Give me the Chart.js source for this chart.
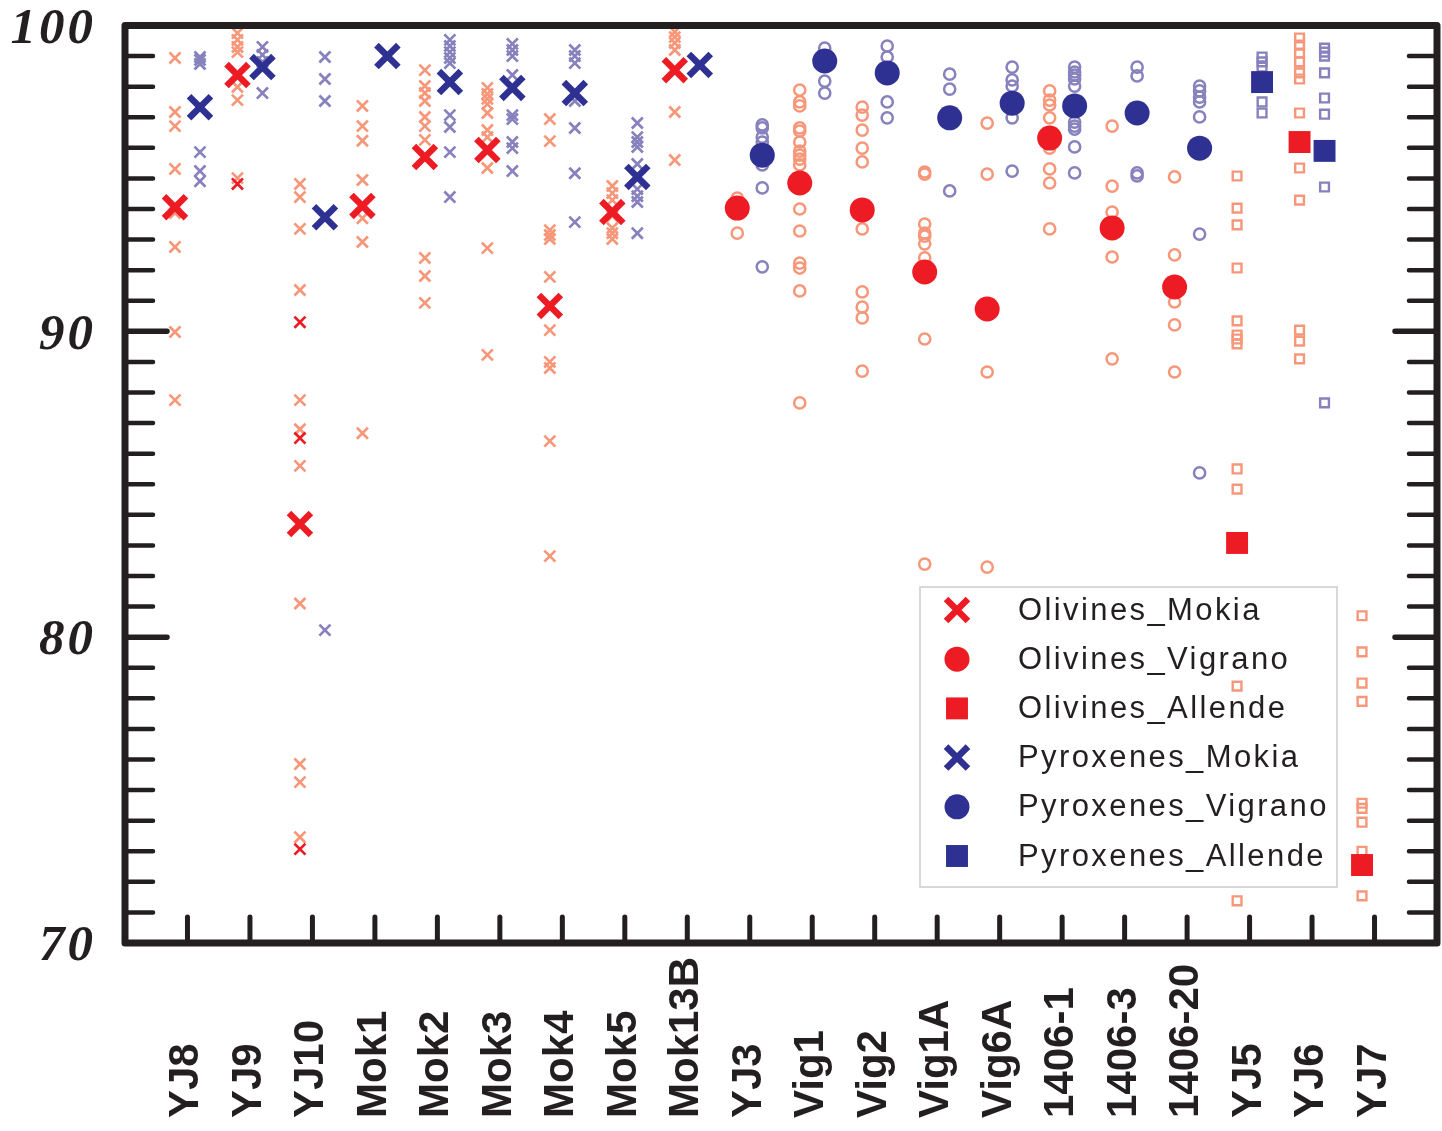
<!DOCTYPE html>
<html>
<head>
<meta charset="utf-8">
<script src="https://cdn.jsdelivr.net/npm/chart.js@4.4.1/dist/chart.umd.min.js"></script>
<style>
html,body{margin:0;padding:0;background:#ffffff;overflow:hidden;}
canvas{display:block;}
</style>
</head>
<body>
<canvas id="c" width="1442" height="1131" style="width:1442px;height:1131px"></canvas>
<script>
// ---------- DATA ----------
const categories = ['YJ8','YJ9','YJ10','Mok1','Mok2','Mok3','Mok4','Mok5','Mok13B','YJ3','Vig1','Vig2','Vig1A','Vig6A','1406-1','1406-3','1406-20','YJ5','YJ6','YJ7'];
const meteorite = ['Mokia','Mokia','Mokia','Mokia','Mokia','Mokia','Mokia','Mokia','Mokia','Vigrano','Vigrano','Vigrano','Vigrano','Vigrano','Vigrano','Vigrano','Vigrano','Allende','Allende','Allende'];
const yTickLabels = [70, 80, 90, 100];

const olivineMeans  = [94.06, 98.38, 83.70, 94.10, 95.70, 95.93, 90.83, 93.90, 98.54, 94.03, 94.85, 93.97, 91.94, 90.73, 96.32, 93.38, 91.45, 83.08, 96.19, 72.55];
const pyroxeneMeans = [97.33, 98.64, 93.73, 99.00, 98.15, 97.96, 97.79, 95.05, 98.71, 95.76, 98.84, 98.45, 96.98, 97.46, 97.37, 97.14, 95.99, 98.15, 95.90, null];

const olivineSpots = [
  [98.94, 97.17, 96.71, 95.31, 93.87, 92.76, 89.98, 87.75],
  [99.75, 99.53, 99.30, 99.13, 97.99, 97.56, 95.01],
  [94.82, 94.39, 93.35, 91.35, 87.75, 86.80, 85.60, 81.10, 75.85, 75.26, 73.46],
  [97.37, 96.71, 96.23, 94.95, 93.70, 92.92, 86.67],
  [98.54, 98.02, 97.79, 97.53, 97.01, 96.71, 96.26, 92.40, 91.81, 90.93],
  [97.96, 97.76, 97.60, 97.43, 97.14, 96.58, 96.35, 95.34, 92.72, 89.23],
  [96.94, 96.22, 93.31, 93.15, 93.02, 91.78, 90.04, 89.00, 88.80, 86.41, 82.65],
  [94.75, 94.52, 94.29, 93.77, 93.38, 93.21, 93.02],
  [99.79, 99.62, 99.43, 99.20, 97.17, 95.60],
  [94.36, 93.21],
  [97.89, 97.50, 97.37, 96.65, 96.55, 96.19, 95.89, 95.76, 95.63, 95.44, 94.00, 93.28, 92.23, 92.07, 91.32, 87.66],
  [97.33, 97.07, 96.58, 95.99, 95.54, 93.35, 91.29, 90.79, 90.44, 88.70],
  [95.21, 95.14, 93.51, 93.21, 93.11, 92.86, 92.40, 89.75, 82.39],
  [96.81, 95.14, 88.67, 82.29],
  [97.86, 97.56, 97.40, 96.98, 95.99, 95.31, 94.85, 93.35],
  [96.71, 94.75, 93.90, 92.43, 89.10],
  [95.05, 92.50, 90.96, 90.21, 88.67],
  [95.08, 94.03, 93.48, 92.07, 90.34, 89.88, 89.75, 89.59, 85.50, 84.84, 78.40, 71.38],
  [99.59, 99.36, 99.10, 98.81, 98.45, 98.25, 97.14, 95.34, 94.29, 90.04, 89.68, 89.10],
  [80.70, 79.52, 78.50, 77.90, 74.57, 74.40, 73.95, 73.00, 71.54]
];
const olivineSpotsHighlighted = [
  [], [94.82], [90.30, 86.51, 73.07], [], [], [], [], [], [], [], [], [], [], [], [], [], [], [], [], []
];
const pyroxeneSpots = [
  [98.97, 98.87, 98.74, 95.86, 95.24, 94.91],
  [99.30, 99.04, 98.81, 97.79],
  [98.97, 98.25, 97.53, 80.23],
  [],
  [99.53, 99.33, 99.13, 98.94, 98.77, 97.07, 96.68, 95.86, 94.39],
  [99.40, 99.20, 99.00, 98.38, 97.07, 96.94, 96.19, 95.99, 95.24],
  [99.20, 99.00, 98.77, 97.53, 96.65, 95.17, 93.57],
  [96.81, 96.35, 96.19, 96.03, 95.47, 94.65, 94.42, 94.23, 93.21],
  [],
  [96.75, 96.65, 96.35, 96.19, 95.44, 94.69, 92.11],
  [99.26, 98.18, 97.79],
  [99.33, 98.97, 97.50, 96.98],
  [98.41, 97.92, 94.59],
  [98.64, 98.22, 98.02, 96.98, 95.24],
  [98.64, 98.48, 98.38, 98.25, 98.02, 96.84, 96.71, 96.61, 96.03, 95.18],
  [98.64, 98.35, 95.18, 95.08],
  [98.02, 97.86, 97.66, 97.50, 97.01, 93.18, 85.37],
  [98.97, 98.81, 98.64, 97.50, 97.14],
  [99.26, 99.13, 99.00, 98.45, 97.63, 97.10, 94.72, 87.66],
  []
];
const meteoriteGroups = ['Mokia', 'Vigrano', 'Allende'];
const mineralNames = ['Olivines', 'Pyroxenes'];

// ---------- STYLE ----------
const INK = '#231f20';
const STRONG = { Olivines: '#ed1c24', Pyroxenes: '#2e3192' };
const LIGHT  = { Olivines: '#f7977a', Pyroxenes: '#8781bd' };
const OFFSET = { Olivines: -0.2, Pyroxenes: 0.2 };
const SHAPE  = { Mokia: 'crossRot', Vigrano: 'circle', Allende: 'rect' };
const BIG = { crossRot: { r: 15.5, bw: 6.5 }, circle: { r: 12.5, bw: 0 }, rect: { r: 15.5, bw: 0 } };
const SMALL = { crossRot: { r: 7.8, bw: 2.7 }, circle: { r: 5.6, bw: 2.5 }, rect: { r: 6.2, bw: 2.4 } };

const meansBy = { Olivines: olivineMeans, Pyroxenes: pyroxeneMeans };
const spotsBy = { Olivines: olivineSpots, Pyroxenes: pyroxeneSpots };

const datasets = [];
mineralNames.forEach(m => {
  meteoriteGroups.forEach(g => {
    const shape = SHAPE[g];
    const meanPts = [];
    const spotPts = [];
    categories.forEach((c, i) => {
      if (meteorite[i] !== g) return;
      const v = meansBy[m][i];
      if (v !== null && v !== undefined) meanPts.push({ x: i + OFFSET[m], y: v });
      spotsBy[m][i].forEach(s => spotPts.push({ x: i + OFFSET[m], y: s }));
    });
    datasets.push({
      label: m + '_' + g, legendShow: true, data: meanPts, order: 0, clip: false,
      pointStyle: shape, pointRadius: BIG[shape].r, borderWidth: BIG[shape].bw,
      borderColor: STRONG[m], backgroundColor: STRONG[m], showLine: false
    });
    datasets.push({
      label: m + '_' + g + ' spots', legendShow: false, data: spotPts, order: 2, clip: false,
      pointStyle: shape, pointRadius: SMALL[shape].r, borderWidth: SMALL[shape].bw,
      borderColor: LIGHT[m], backgroundColor: 'rgba(0,0,0,0)', showLine: false
    });
  });
});
const hiPts = [];
categories.forEach((c, i) => olivineSpotsHighlighted[i].forEach(v => hiPts.push({ x: i + OFFSET.Olivines, y: v })));
datasets.push({
  label: 'Olivines highlighted', legendShow: false, data: hiPts, order: 1, clip: false,
  pointStyle: 'crossRot', pointRadius: SMALL.crossRot.r, borderWidth: SMALL.crossRot.bw,
  borderColor: STRONG.Olivines, backgroundColor: STRONG.Olivines, showLine: false
});

// ---------- PLUGINS ----------
function drawMarker(ctx, shape, x, y, r, bw, color) {
  ctx.save();
  ctx.fillStyle = color; ctx.strokeStyle = color; ctx.lineWidth = bw;
  if (shape === 'crossRot') {
    const a = r * Math.SQRT1_2;
    ctx.beginPath();
    ctx.moveTo(x - a, y - a); ctx.lineTo(x + a, y + a);
    ctx.moveTo(x - a, y + a); ctx.lineTo(x + a, y - a);
    ctx.stroke();
  } else if (shape === 'circle') {
    ctx.beginPath(); ctx.arc(x, y, r, 0, Math.PI * 2); ctx.fill();
  } else {
    const s = r * Math.SQRT1_2;
    ctx.fillRect(x - s, y - s, 2 * s, 2 * s);
  }
  ctx.restore();
}

const legendPlugin = {
  id: 'insetLegend',
  beforeDatasetsDraw(chart) {
    const ctx = chart.ctx;
    const box = { x: 920, y: 587, w: 417, h: 300 };
    ctx.save();
    ctx.strokeStyle = '#cccccc';
    ctx.lineWidth = 1.5;
    ctx.strokeRect(box.x, box.y, box.w, box.h);
    const items = chart.data.datasets.filter(d => d.legendShow);
    items.forEach((d, k) => {
      const cy = 610 + k * 49.2;
      drawMarker(ctx, d.pointStyle, 957, cy, d.pointRadius, d.borderWidth, d.borderColor);
      ctx.fillStyle = INK;
      ctx.font = '31px "Liberation Sans", Arial, sans-serif';
      ctx.letterSpacing = '2.4px';
      ctx.textAlign = 'left';
      ctx.textBaseline = 'middle';
      ctx.fillText(d.label, 1018, cy + 1);
    });
    ctx.restore();
  }
};

const framePlugin = {
  id: 'frameAxes',
  afterDatasetsDraw(chart) {
    const ctx = chart.ctx;
    const xs = chart.scales.x, ys = chart.scales.y;
    const a = chart.chartArea;
    ctx.save();
    ctx.strokeStyle = INK;
    ctx.lineCap = 'round';
    for (let v = ys.min + 1; v < ys.max; v++) {
      const y = ys.getPixelForValue(v);
      const major = v % 10 === 0;
      ctx.lineWidth = major ? 5.5 : 4.5;
      const len = major ? 42 : 28;
      ctx.beginPath();
      ctx.moveTo(a.left, y); ctx.lineTo(a.left + len, y);
      ctx.moveTo(a.right, y); ctx.lineTo(a.right - len, y);
      ctx.stroke();
    }
    ctx.lineWidth = 5;
    categories.forEach((c, i) => {
      const x = xs.getPixelForValue(i);
      ctx.beginPath();
      ctx.moveTo(x, a.bottom); ctx.lineTo(x, a.bottom - 26);
      ctx.stroke();
    });
    ctx.lineCap = 'butt';
    ctx.lineJoin = 'round';
    ctx.lineWidth = 7;
    ctx.strokeRect(a.left, a.top, a.right - a.left, a.bottom - a.top);

    ctx.fillStyle = INK;
    ctx.font = 'italic bold 51px "Liberation Serif", "Times New Roman", serif';
    ctx.letterSpacing = '3px';
    ctx.textAlign = 'right';
    ctx.textBaseline = 'middle';
    yTickLabels.forEach(v => {
      ctx.fillText(String(v), 96, ys.getPixelForValue(v) + 4);
    });

    ctx.font = 'bold 42px "Liberation Sans", Arial, sans-serif';
    ctx.letterSpacing = '0px';
    ctx.textAlign = 'left';
    ctx.textBaseline = 'alphabetic';
    categories.forEach((c, i) => {
      const x = xs.getPixelForValue(i);
      ctx.save();
      ctx.translate(x + 11, 1118);
      ctx.rotate(-Math.PI / 2);
      ctx.fillText(c, 0, 0);
      ctx.restore();
    });
    ctx.restore();
  }
};

new Chart(document.getElementById('c'), {
  type: 'scatter',
  data: { datasets },
  options: {
    responsive: false,
    animation: false,
    events: [],
    devicePixelRatio: 1,
    layout: {
      autoPadding: false,
      padding: { left: 125, top: 25.5, right: 5, bottom: 188 }
    },
    plugins: { legend: { display: false }, tooltip: { enabled: false } },
    scales: {
      x: { type: 'linear', min: -1, max: 20, display: false },
      y: { type: 'linear', min: 70, max: 100, display: false }
    },
    elements: { point: { hoverRadius: 0 } }
  },
  plugins: [legendPlugin, framePlugin]
});
</script>
</body>
</html>
